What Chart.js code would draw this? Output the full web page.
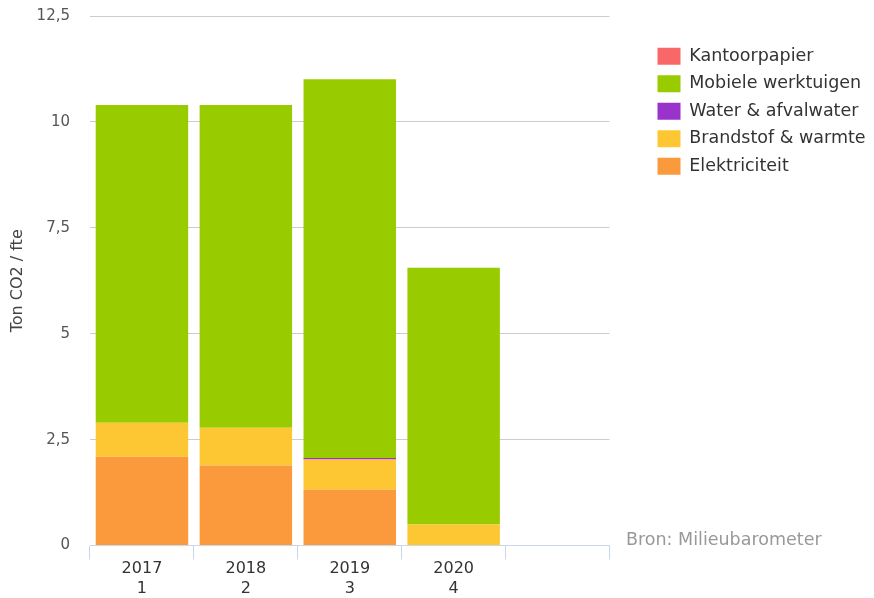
<!DOCTYPE html>
<html>
<head>
<meta charset="utf-8">
<script src="https://cdn.jsdelivr.net/npm/chart.js@4"></script>
<style>
    body { margin: 0; background: #fff; }
    #wrap { position: relative; width: 874px; height: 598px; }
    #bron { position: absolute; left: 626px; top: 529px; font: 17.5px "DejaVu Sans", sans-serif; color: #999; }
</style>
</head>
<body>
<div id="wrap">
    <canvas id="co2Chart"></canvas>
    <div id="bron">Bron: Milieubarometer</div>
</div>
<script>
// Data
const years = [['2017', '1'], ['2018', '2'], ['2019', '3'], ['2020', '4'], ['', '']];
const elektriciteit = [2.10, 1.89, 1.32, 0, 0];
const brandstof = [0.80, 0.89, 0.71, 0.50, 0];
const water = [0, 0, 0.04, 0, 0];
const mobiele = [7.50, 7.62, 8.94, 6.06, 0];
const kantoorpapier = [0, 0, 0, 0, 0];
const yTickLabels = ['0', '2,5', '5', '7,5', '10', '12,5'];

const font = "'DejaVu Sans', sans-serif";

const data = {
    labels: years,
    datasets: [
        { label: 'Elektriciteit', data: elektriciteit, backgroundColor: '#fa9a3c' },
        { label: 'Brandstof & warmte', data: brandstof, backgroundColor: '#fdc734' },
        { label: 'Water & afvalwater', data: water, backgroundColor: '#9933cc' },
        { label: 'Mobiele werktuigen', data: mobiele, backgroundColor: '#99cc00' },
        { label: 'Kantoorpapier', data: kantoorpapier, backgroundColor: '#f86868' }
    ]
};

// push the legend a bit to the right of the plot area
const legendShift = {
    id: 'legendShift',
    afterLayout(chart) {
        const lg = chart.legend;
        lg.left += 38;
        lg.right = chart.width;
        lg.width = lg.right - lg.left;
    }
};

const config = {
    type: 'bar',
    data: data,
    plugins: [legendShift],
    options: {
        responsive: true,
        maintainAspectRatio: false,
        animation: false,
        barPercentage: 0.89,
        categoryPercentage: 1,
        layout: { padding: { top: 16, left: 8, right: 64, bottom: 0 } },
        plugins: {
            tooltip: { enabled: false },
            legend: {
                position: 'right',
                align: 'start',
                reverse: true,
                title: { display: true, text: '', font: { size: 12 }, padding: { top: 0, bottom: 7 } },
                labels: {
                    boxWidth: 23,
                    boxHeight: 17,
                    padding: 10,
                    color: '#333',
                    font: { family: font, size: 17.5 }
                }
            }
        },
        scales: {
            x: {
                stacked: true,
                grid: {
                    offset: true,
                    drawOnChartArea: false,
                    drawTicks: true,
                    tickLength: 14,
                    color: '#ccd6eb'
                },
                border: { color: '#ccd6eb' },
                ticks: {
                    padding: 0,
                    color: '#333',
                    font: { family: font, size: 16, lineHeight: 1.2 }
                }
            },
            y: {
                stacked: true,
                min: 0,
                max: 12.5,
                afterFit: (scale) => {
                    scale.paddingTop = 0;
                    scale.width = 82;
                },
                ticks: {
                    stepSize: 2.5,
                    padding: 20,
                    color: '#555',
                    font: { family: font, size: 15 },
                    callback: (value, index) => yTickLabels[index]
                },
                grid: { color: '#cccccc', drawTicks: false },
                border: { display: false },
                title: {
                    display: true,
                    text: 'Ton CO2 / fte',
                    color: '#444',
                    font: { family: font, size: 16 },
                    padding: { top: 0, bottom: 8 }
                }
            }
        }
    }
};

new Chart(document.getElementById('co2Chart'), config);
</script>
</body>
</html>
